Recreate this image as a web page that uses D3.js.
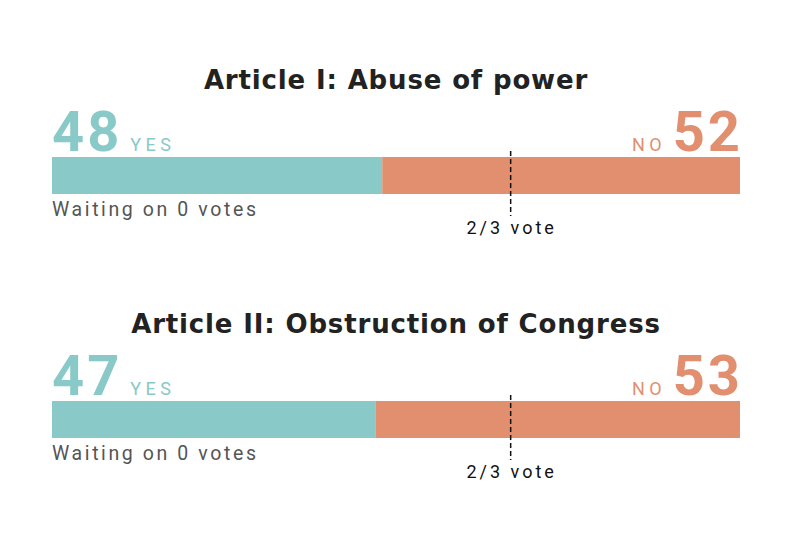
<!DOCTYPE html>
<html>
<head>
<meta charset="utf-8">
<script src="https://cdn.jsdelivr.net/npm/d3@7"></script>
<style>
	body { margin: 0; background: #fff; }
	svg { display: block; }
	text { font-family: Roboto, "DejaVu Sans", sans-serif; }
</style>
</head>
<body>
<script>
// vote tallies
let articles = 	['Article I: Abuse of power', 'Article II: Obstruction of Congress']
let yesVotes = 	[48, 47]
let noVotes = 	[52, 53]
let waiting = 	[0, 0]
let seats = 	100
let needed = 	[2/3]
let needLabel = ['2/3 vote']

let YES = 	'#89c9c8'
let NO = 	'#e28f6f'

let W = 810, H = 540
let panelH = 244

let svg = d3.select('body').append('svg')
	.attr('width', W)
	.attr('height', H)

let x = d3.scaleLinear()
	.domain([0, seats])
	.range([52, 740])

let panels = svg.selectAll('g.panel')
	.data(articles.map((a, i) => ({title: a, yes: yesVotes[i], no: noVotes[i], wait: waiting[i]})))
	.join('g')
	.attr('class', 'panel')
	.attr('transform', (d, i) => `translate(0, ${i * panelH})`)

panels.append('text')
	.attr('x', 396).attr('y', 89)
	.attr('text-anchor', 'middle')
	.style('font-family', '"DejaVu Sans", sans-serif')
	.style('font-size', '26px').style('font-weight', 700)
	.style('letter-spacing', '0.85px')
	.style('fill', '#222')
	.text(d => d.title)

// big numbers + small YES / NO labels
let bigSpace = 3
panels.append('text')
	.attr('x', x(0)).attr('y', 151)
	.style('font-size', '56px').style('font-weight', 700)
	.style('letter-spacing', bigSpace + 'px')
	.style('fill', YES)
	.text(d => d.yes)
	.each(function() {
		let w = this.getComputedTextLength()
		d3.select(this.parentNode).append('text')
			.attr('x', x(0) + w + 8).attr('y', 151)
			.style('font-size', '18px').style('letter-spacing', '4.5px')
			.style('fill', YES)
			.text('YES')
	})

panels.append('text')
	.attr('y', 151)
	.style('font-size', '56px').style('font-weight', 700)
	.style('letter-spacing', bigSpace + 'px')
	.style('fill', NO)
	.text(d => d.no)
	.each(function() {
		let w = this.getComputedTextLength() - bigSpace
		let x0 = x(seats) - w
		d3.select(this).attr('x', x0)
		let no = d3.select(this.parentNode).append('text')
			.attr('y', 151)
			.style('font-size', '18px').style('letter-spacing', '4.5px')
			.style('fill', NO)
			.text('NO')
		let wn = no.node().getComputedTextLength() - 4.5
		no.attr('x', x0 - 11 - wn)
	})

// the bar
panels.append('rect')
	.attr('x', x(0)).attr('y', 157)
	.attr('width', d => x(d.yes) - x(0)).attr('height', 37)
	.attr('fill', YES)
panels.append('rect')
	.attr('x', d => x(d.yes)).attr('y', 157)
	.attr('width', d => x(d.yes + d.no) - x(d.yes)).attr('height', 37)
	.attr('fill', NO)

panels.append('text')
	.attr('x', x(0)).attr('y', 216)
	.style('font-size', '19.5px').style('letter-spacing', '2.6px')
	.style('fill', '#555')
	.text(d => `Waiting on ${d.wait} votes`)

// threshold marker
panels.append('line')
	.attr('x1', x(seats * needed[0])).attr('x2', x(seats * needed[0]))
	.attr('y1', 151).attr('y2', 216)
	.attr('stroke', '#111').attr('stroke-width', 1.5)
	.attr('stroke-dasharray', '5,3')
panels.append('text')
	.attr('x', x(seats * needed[0]) + 1).attr('y', 234)
	.attr('text-anchor', 'middle')
	.style('font-size', '18px').style('letter-spacing', '3px')
	.style('fill', '#111')
	.text(needLabel[0])
</script>
</body>
</html>
